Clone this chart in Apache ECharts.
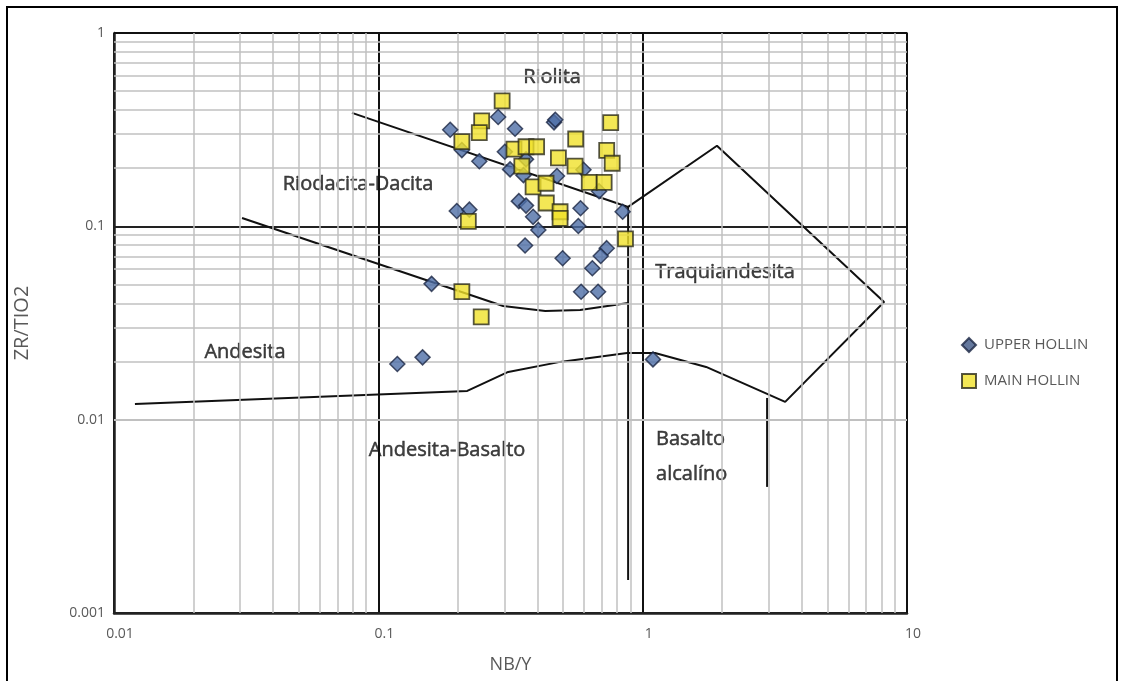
<!DOCTYPE html>
<html>
<head>
<meta charset="utf-8">
<title>ZR/TIO2 vs NB/Y</title>
<script src="https://cdn.jsdelivr.net/npm/echarts@6/dist/echarts.min.js"></script>
<style>
  html, body { margin: 0; padding: 0; background: #fff; }
  #chart { width: 1124px; height: 681px; }
</style>
</head>
<body>
<div id="chart"></div>
<script>
// Axis ticks (log scale, decades)
const xTicks = [0.01, 0.1, 1, 10];
const yTicks = [0.001, 0.01, 0.1, 1];

// Minor grid positions inside each decade
const xMinor = [0.02,0.03,0.04,0.05,0.06,0.07,0.08,0.09, 0.2,0.3,0.4,0.5,0.6,0.7,0.8,0.9, 2,3,4,5,6,7,8,9];
const yMinor = [0.002,0.003,0.004,0.005,0.006,0.007,0.008,0.009, 0.02,0.03,0.04,0.05,0.06,0.07,0.08,0.09, 0.2,0.3,0.4,0.5,0.6,0.7,0.8,0.9];

// Samples: [Nb/Y, Zr/TiO2]
const upperHollin = [
  [0.187,0.316],[0.207,0.248],[0.284,0.368],[0.329,0.320],[0.462,0.345],[0.467,0.356],
  [0.241,0.217],[0.301,0.243],[0.362,0.222],[0.315,0.197],[0.354,0.184],[0.474,0.182],
  [0.597,0.196],[0.684,0.152],[0.198,0.120],[0.221,0.122],[0.340,0.135],[0.362,0.128],
  [0.385,0.112],[0.403,0.0957],[0.359,0.0796],[0.498,0.0684],[0.582,0.124],[0.571,0.1004],
  [0.731,0.0771],[0.694,0.0703],[0.645,0.0607],[0.585,0.0459],[0.678,0.0459],[0.840,0.119],
  [0.159,0.0504],[0.118,0.0194],[0.147,0.0210],[1.094,0.0205]
];
const mainHollin = [
  [0.294,0.446],[0.246,0.351],[0.241,0.305],[0.207,0.274],[0.326,0.251],[0.362,0.258],
  [0.397,0.258],[0.349,0.205],[0.757,0.344],[0.558,0.283],[0.731,0.247],[0.480,0.226],
  [0.767,0.212],[0.555,0.205],[0.385,0.160],[0.431,0.167],[0.628,0.169],[0.715,0.169],
  [0.432,0.132],[0.487,0.119],[0.487,0.110],[0.219,0.106],[0.861,0.0861],[0.207,0.0459],
  [0.245,0.0340]
];

// Field boundaries
const boundaryOuter = [
  [0.0795,0.386],[0.881,0.126],[1.91,0.261],[8.19,0.0406],[3.46,0.01236],[1.738,0.01874],
  [1.114,0.0221],[0.873,0.0221],[0.487,0.0199],[0.310,0.01765],[0.217,0.01408],[0.0120,0.01205]
];
const boundaryDacite = [[0.0305,0.1105],[0.2965,0.0387],[0.428,0.0365],[0.580,0.0369],[0.881,0.0401]];
const boundaryVertical = [[0.881,0.126],[0.881,0.00148]];
const boundaryAlkaline = [[2.956,0.01295],[2.956,0.00449]];

// Field names and their anchor points
const fieldNames = ['Riolita','Riodacita-Dacita','Traquiandesita','Andesita','Andesita-Basalto','Basalto\nalcalíno'];
const fieldAnchors = [[0.454,0.587],[0.0838,0.164],[2.05,0.0581],[0.0313,0.0224],[0.182,0.00697],[1.124,0.00641]];
const fieldAlign = ['center','center','center','center','center','left'];

const chart = echarts.init(document.getElementById('chart'));

const lineStyleBlack = { color: '#111', width: 2 };
function boundary(data) {
  return {
    type: 'line', data: data, symbol: 'none', silent: true, z: 3,
    lineStyle: lineStyleBlack, legendHoverLink: false, animation: false
  };
}

const fmt = v => {
  const all = xTicks.concat(yTicks);
  for (const t of all) if (Math.abs(v - t) / t < 1e-6) return String(t);
  return '';
};

chart.setOption({
  animation: false,
  backgroundColor: '#fff',
  textStyle: { fontFamily: 'Open Sans, sans-serif' },
  graphic: [{
    type: 'rect', silent: true,
    shape: { x: 7, y: 7, width: 1110, height: 700 },
    style: { fill: 'none', stroke: '#000', lineWidth: 2 }
  }],
  grid: { left: 114, top: 33, width: 793, height: 580, show: false },
  legend: {
    orient: 'vertical', left: 956, top: 332, itemGap: 20,
    itemWidth: 14, itemHeight: 14,
    textStyle: { color: '#595959', fontSize: 15, fontFamily: 'Open Sans, sans-serif', padding: [0, 0, 0, 3] },
    data: [
      { name: 'UPPER HOLLIN', itemStyle: { color: '#3d5684' } },
      { name: 'MAIN HOLLIN' }
    ]
  },
  xAxis: {
    type: 'log', logBase: 10, min: 0.01, max: 10,
    name: 'NB/Y', nameLocation: 'middle', nameGap: 43,
    nameTextStyle: { color: '#595959', fontSize: 18 },
    axisLine: { show: true, onZero: false, lineStyle: { color: '#222', width: 2.5 } },
    axisTick: { show: false },
    axisLabel: { color: '#595959', fontSize: 14, margin: 14, formatter: fmt, padding: [0, 0, 0, 12] },
    splitLine: { show: true, lineStyle: { color: '#111', width: 2 } }
  },
  yAxis: {
    type: 'log', logBase: 10, min: 0.001, max: 1,
    name: 'ZR/TIO2', nameLocation: 'middle', nameGap: 82,
    nameTextStyle: { color: '#595959', fontSize: 20 },
    axisLine: { show: true, onZero: false, lineStyle: { color: '#222', width: 2.5 } },
    axisTick: { show: false },
    axisLabel: { color: '#595959', fontSize: 14, margin: 9, formatter: fmt, padding: [0, 0, 6, 0] },
    splitLine: { show: true, lineStyle: { color: '#222', width: 2 } }
  },
  series: [
    {
      // minor log grid
      type: 'line', data: [], silent: true, z: 1,
      markLine: {
        silent: true, symbol: 'none', animation: false,
        label: { show: false },
        lineStyle: { color: '#c0c0c0', width: 1.5, type: 'solid' },
        data: xMinor.map(v => ({ xAxis: v })).concat(yMinor.map(v => ({ yAxis: v })))
      }
    },
    // right and top frame of the plot
    boundary([[10, 0.001], [10, 1], [0.01, 1]]),
    boundary(boundaryOuter),
    boundary(boundaryDacite),
    boundary(boundaryVertical),
    boundary(boundaryAlkaline),
    {
      type: 'scatter', silent: true, z: 4,
      data: fieldAnchors.map((p, i) => ({
        value: p,
        label: { formatter: fieldNames[i], align: fieldAlign[i] }
      })),
      symbolSize: 0,
      label: {
        show: true, position: 'inside', color: '#111', fontSize: 20,
        textBorderColor: '#111', textBorderWidth: 0.5,
        lineHeight: 35, fontFamily: 'Open Sans, sans-serif'
      }
    },
    {
      name: 'UPPER HOLLIN', type: 'scatter', z: 5,
      data: upperHollin, symbol: 'diamond', symbolSize: 15,
      itemStyle: { color: '#4d6ea6', borderColor: '#1c2744', borderWidth: 1.5 }
    },
    {
      name: 'MAIN HOLLIN', type: 'scatter', z: 6,
      data: mainHollin, symbol: 'rect', symbolSize: 15,
      itemStyle: { color: '#f0e12a', borderColor: '#2a2a1a', borderWidth: 1.8 }
    }
  ]
});
</script>
</body>
</html>
